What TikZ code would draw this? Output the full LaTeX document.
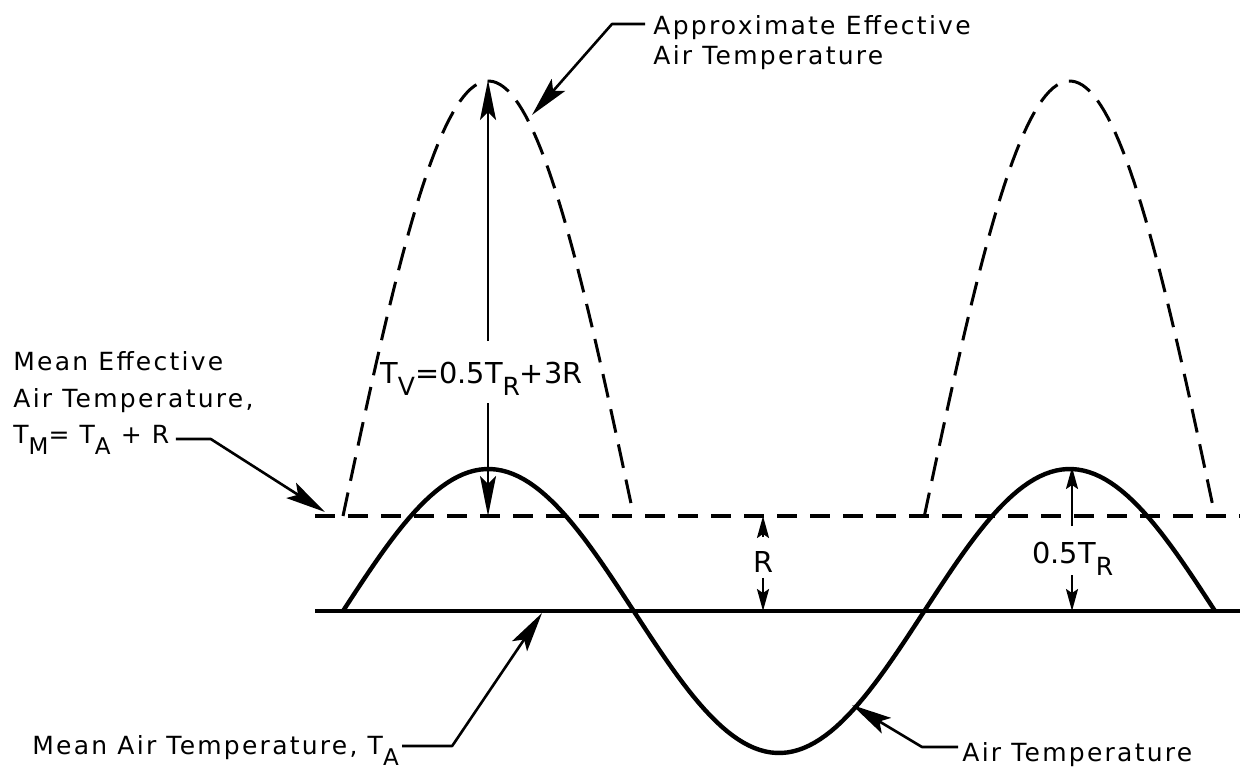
\documentclass[tikz,border=0pt]{standalone}
\usepackage{fontspec}
\setmainfont{DejaVu Sans}
\newfontfamily\lblfont{DejaVu Sans}[LetterSpace=9]
\usetikzlibrary{arrows.meta,calc}
\newcommand\lowsub[1]{\raisebox{-5.5pt}{\fontsize{11.5}{13}\selectfont #1}}
\newcommand\fsub[1]{\raisebox{-6pt}{\fontsize{12.5}{14}\selectfont #1}}
\begin{document}
\begin{tikzpicture}[x=0.5pt,y=-0.5pt,
  lbl/.style={inner sep=0pt, anchor=base west, font=\lblfont\fontsize{12.5}{14}\selectfont},
  frm/.style={inner sep=0pt, font=\fontsize{14.4}{16}\selectfont},
  curve/.style={line width=2.2pt, line join=round},
  meanline/.style={line width=1.6pt},
  dashline/.style={line width=1.6pt, dash pattern=on 10pt off 6.5pt},
  humpline/.style={line width=1.5pt, dash pattern=on 12pt off 6pt},
  leader/.style={line width=1.3pt, line join=round, -{Stealth[length=20pt,width=9pt,inset=4pt]}},
  dim/.style={line width=1.1pt, -{Stealth[length=20pt,width=8pt,inset=4pt]}},
  smalldim/.style={line width=1.1pt, -{Stealth[length=11pt,width=6pt,inset=2pt]}}]

\useasboundingbox (0,0) rectangle (1240,771);

% reference lines
\coordinate (baseL) at (315,611); \coordinate (baseR) at (1240,611);
\coordinate (effL) at (315,516);  \coordinate (effR) at (1240,516);
\draw[meanline] (baseL) -- (baseR);
\draw[dashline] (effL) -- (effR);

% air temperature
\draw[curve] plot[domain=343:1215, samples=160] (\x, {611-142*sin(0.61926*(\x-343))});

% approximate effective air temperature humps
\draw[humpline] plot[domain=343:632, samples=80] (\x, {516-435*sin(0.61926*(\x-343))});
\draw[humpline] plot[domain=924.3:1215, samples=80] (\x, {516-435*sin(0.61926*(\x-343))});

% top label
\node[lbl] (apx1) at (653,34) {Approximate Effective};
\node[lbl] (apx2) at (653,64) {Air Temperature};
\coordinate (apxTip) at (532,115);
\draw[leader] ($(apx1.base west)+(-8,-10)$) -- ++(-33,0) -- (apxTip);

% mean effective label
\node[lbl] (mef1) at (13,370) {Mean Effective};
\node[lbl] (mef2) at (13,407) {Air Temperature,};
\node[lbl] (mef3) at (13,443) {T\lowsub{M}= T\lowsub{A} + R};
\coordinate (mefTip) at (325,512);
\draw[leader] ($(mef3.base east)+(6,-4)$) -- ++(35,0) -- (mefTip);

% mean air temperature label
\node[lbl] (mat) at (32,754) {Mean Air Temperature, T\lowsub{A}};
\coordinate (matTip) at (542,613);
\draw[leader] ($(mat.base east)+(3,-8)$) -- ++(50,0) -- (matTip);

% air temperature label
\node[lbl] (at) at (962,761) {Air Temperature};
\coordinate (atTip) at (852,705);
\draw[leader] ($(at.base west)+(-4,-14)$) -- ++(-36,0) -- (atTip);

% T_V dimension
\node[frm, anchor=base west] (tv) at (380,383) {T\fsub{V}=0.5T\fsub{R}+3R};
\coordinate (hp1) at (488,80);
\coordinate (ep1) at (488,516);
\draw[dim] ($(hp1 |- tv.north)+(0,-20)$) -- (hp1);
\draw[dim] ($(hp1 |- tv.south)+(0,8)$) -- (ep1);

% R dimension
\node[frm] (r) at (763,562) {R};
\coordinate (rTop) at (763,516);
\coordinate (rBot) at (763,611);
\draw[smalldim] ($(r.north)+(0,-14)$) -- (rTop);
\draw[smalldim] ($(r.south)+(0,5)$) -- (rBot);

% 0.5 T_R dimension
\node[frm, anchor=base west] (half) at (1032,563) {0.5T\fsub{R}};
\coordinate (p2) at (1072,467);
\coordinate (p2b) at (1072,611);
\draw[smalldim] ($(p2 |- half.north)+(0,-15)$) -- (p2);
\draw[smalldim] ($(p2b |- half.south)+(0,0)$) -- (p2b);
\end{tikzpicture}
\end{document}
